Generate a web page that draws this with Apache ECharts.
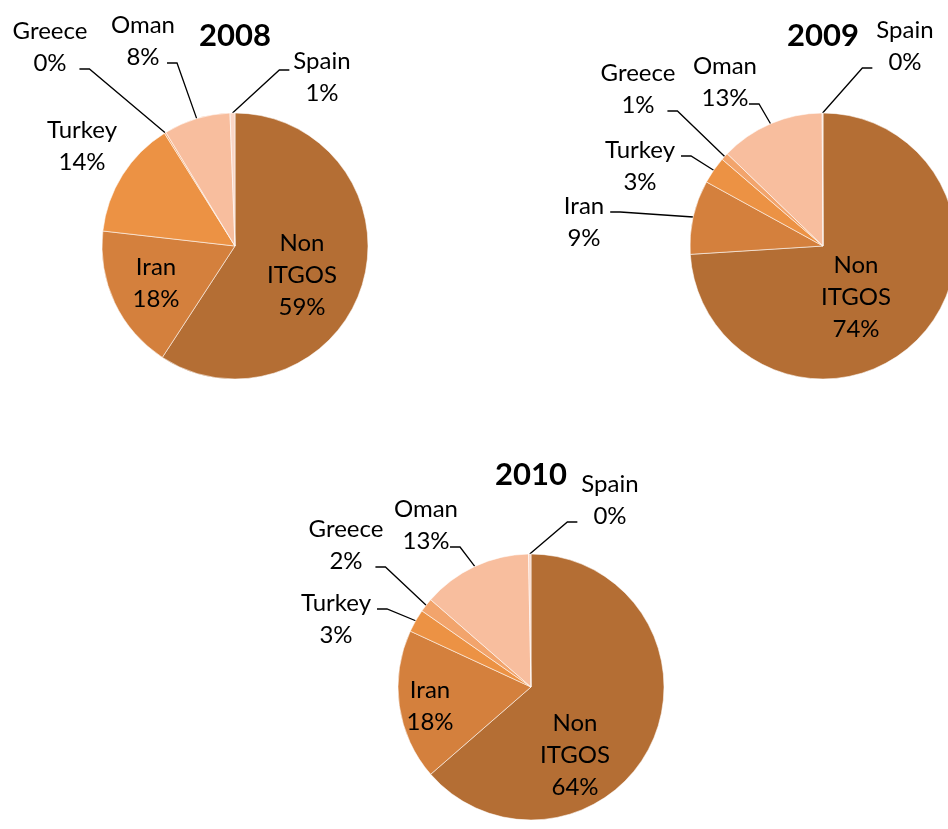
<!DOCTYPE html>
<html><head><meta charset="utf-8">
<script src="https://cdn.jsdelivr.net/npm/echarts@6/dist/echarts.min.js"></script>
<style>html,body{margin:0;padding:0;background:#fff}#c{width:948px;height:829px}</style>
</head><body><div id="c"></div>
<script>
// ---- data ----
const categories = ['Non ITGOS', 'Iran', 'Turkey', 'Greece', 'Oman', 'Spain'];
const years = ['2008', '2009', '2010'];
const values2008 = [59.2, 17.6, 14.3, 0.2, 8.1, 0.6];
const values2009 = [74.0, 9.0, 3.3, 0.9, 12.7, 0.1];
const values2010 = [63.6, 18.3, 2.8, 1.7, 13.3, 0.3];

// ---- layout / style ----
const colors = ['#B46E34', '#D4803D', '#EC9244', '#F2A46C', '#F8BE9E', '#FAD6C6'];
const pieCenters = [[235, 246], [823, 246], [531, 687]];
const pieRadius = 133;
const labelCenters = [
  { 'Non ITGOS': [302, 275], 'Iran': [156, 283], 'Turkey': [82, 146], 'Greece': [50, 47], 'Oman': [143, 41], 'Spain': [322, 77] },
  { 'Non ITGOS': [856, 297], 'Iran': [584, 222], 'Turkey': [640, 166], 'Greece': [638, 89], 'Oman': [725, 82], 'Spain': [905, 46] },
  { 'Non ITGOS': [575, 755], 'Iran': [430, 706], 'Turkey': [336, 619], 'Greece': [346, 545], 'Oman': [426, 525], 'Spain': [610, 500] }
];
const noLine = [
  ['Non ITGOS', 'Iran', 'Turkey'],
  ['Non ITGOS'],
  ['Non ITGOS', 'Iran']
];
const FONT = 'Lato';

const allValues = [values2008, values2009, values2010];

const chart = echarts.init(document.getElementById('c'), null, { renderer: 'canvas' });

function labelLayout(params) {
  const s = params.seriesIndex, i = params.dataIndex;
  const name = categories[i];
  const pos = labelCenters[s][name];
  const w = params.labelRect.width, h = params.labelRect.height;
  const res = { x: pos[0], y: pos[1], align: 'center', verticalAlign: 'middle' };
  const pts = params.labelLinePoints;
  if (pts && noLine[s].indexOf(name) < 0) {
    const p0 = pts[0];
    const onLeft = p0[0] > pos[0];
    const below = onLeft ? (p0[1] > pos[1] + h / 2) : (p0[1] > pos[1] + h / 2 + 8);
    const ay = below ? pos[1] + 22 : pos[1] - (onLeft ? 10 : 7);
    let ex;
    if (onLeft) ex = below ? pos[0] + w / 2 - 8 : pos[0] + w / 2 + 6;
    else ex = pos[0] - w / 2 - 4;
    const p2 = [ex, ay];
    const p1 = [ex + (onLeft ? 10 : -10), ay];
    res.labelLinePoints = [p0, p1, p2];
  }
  return res;
}

const series = years.map((y, s) => ({
  type: 'pie',
  name: y,
  center: pieCenters[s],
  radius: pieRadius,
  startAngle: 90,
  clockwise: true,
  avoidLabelOverlap: false,
  percentPrecision: 1,
  animation: false,
  silent: true,
  itemStyle: { borderColor: 'rgba(255,255,255,0.55)', borderWidth: 1 },
  label: {
    show: true,
    position: 'outside',
    color: '#000',
    fontFamily: FONT,
    fontSize: 24,
    lineHeight: 32,
    align: 'center',
    formatter: p => p.name.replace(' ', '\n') + '\n' + Math.round(p.percent) + '%'
  },
  labelLine: { show: true, length: 10, length2: 10, smooth: false, lineStyle: { color: '#000', width: 1.3 } },
  labelLayout: labelLayout,
  data: categories.map((c, i) => {
    const item = { name: c, value: allValues[s][i], itemStyle: { color: colors[i] } };
    if (noLine[s].indexOf(c) >= 0) item.labelLine = { show: false };
    return item;
  })
}));

chart.setOption({
  backgroundColor: '#fff',
  title: years.map((y, s) => ({
    text: y,
    left: pieCenters[s][0],
    top: s < 2 ? 20 : 459,
    textAlign: 'center',
    padding: 0,
    textStyle: { fontFamily: FONT, fontWeight: 'bold', fontSize: 31, color: '#000' }
  })),
  series: series
});
</script>
</body></html>
